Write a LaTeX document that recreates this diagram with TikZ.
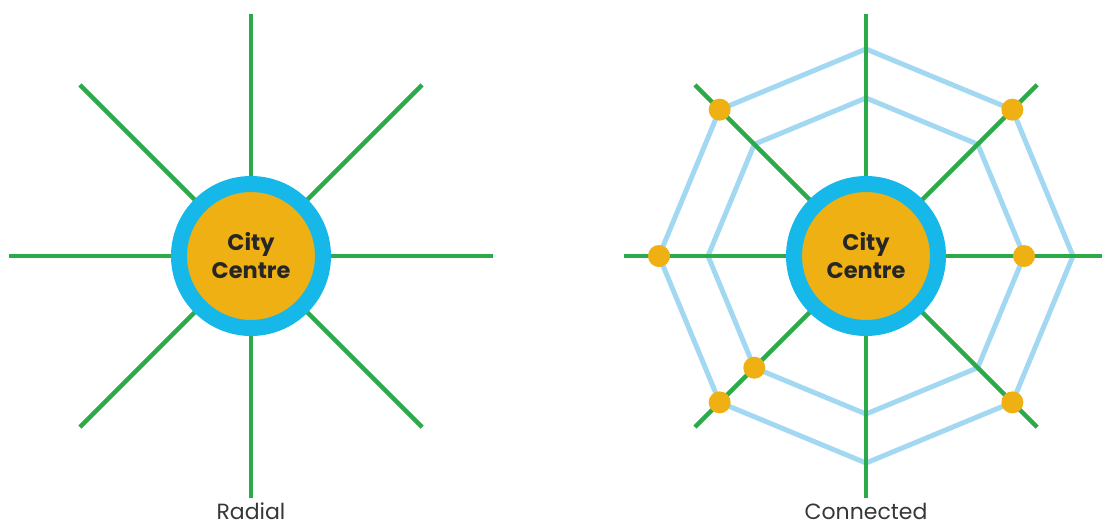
\documentclass[tikz,border=0pt]{standalone}
\usepackage{fontspec}
\setmainfont{Poppins}
\usetikzlibrary{positioning, calc}
\definecolor{route}{RGB}{44,170,74}
\definecolor{ring}{RGB}{163,216,242}
\definecolor{hubedge}{RGB}{22,184,234}
\definecolor{hubfill}{RGB}{238,176,18}
\definecolor{caption}{RGB}{55,55,55}

\begin{document}
\begin{tikzpicture}[
    x=1pt,
    y=-1pt,
    routeline/.style={route, line width=4.5pt},
    ringline/.style={ring, line width=5pt, line join=miter},
    hub/.style={circle, fill=hubfill, draw=hubedge, line width=16pt, minimum size=144pt,
        inner sep=0pt, align=center, text=black!85, font=\fontsize{22.5}{28}\selectfont\bfseries},
    stop/.style={circle, fill=hubfill, minimum size=22pt, inner sep=0pt},
    caption/.style={anchor=base, inner sep=0pt, text=caption, font=\fontsize{22}{26}\selectfont}
]
\useasboundingbox (0,0) rectangle (1102,528);

% Centres
\coordinate (cL) at (251,256);
\coordinate (cR) at (866,256);

% Radial: spokes
\foreach \a in {0,45,...,315} {
    \draw[routeline] (cL) -- ++(\a:242) coordinate (rL\a);
}
\node[hub] (hubL) at (cL) {City\\Centre};
\node[caption] (radial) at (251,519) {Radial};

% Connected: rings
\draw[ringline, shift={(866,256)}] (0:207) \foreach \a in {45,90,...,315} { -- (\a:207) } -- cycle;
\draw[ringline, shift={(866,256)}] (0:158) \foreach \a in {45,90,...,315} { -- (\a:158) } -- cycle;

% Connected: spokes
\foreach \a in {0,45,...,315} {
    \draw[routeline] (cR) -- ++(\a:242) coordinate (rR\a);
}
\node[hub] (hubR) at (cR) {City\\Centre};

% Interchanges
\foreach \a/\r [count=\i] in {225/207, 315/207, 180/207, 135/207, 45/207, 0/158, 135/158} {
    \node[stop] (s\i) at ($(cR)+(\a:\r)$) {};
}
\node[caption] (connected) at (866,519) {Connected};

\end{tikzpicture}
\end{document}
